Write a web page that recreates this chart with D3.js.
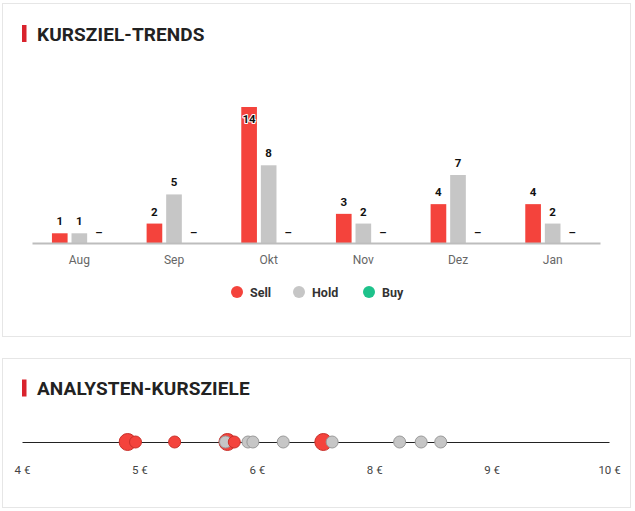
<!DOCTYPE html>
<html>
<head>
<meta charset="utf-8">
<script src="https://cdn.jsdelivr.net/npm/d3@7"></script>
<style>
  html, body { margin: 0; padding: 0; background: #fff; }
  svg { display: block; font-family: Roboto, "Open Sans", sans-serif; }
</style>
</head>
<body>
<svg id="chart" width="635" height="511"></svg>
<script>
// ---- Data ----
const months = ["Aug", "Sep", "Okt", "Nov", "Dez", "Jan"];
const seriesNames = ["Sell", "Hold", "Buy"];
const sellCounts = [1, 2, 14, 3, 4, 4];
const holdCounts = [1, 5, 8, 2, 7, 2];
const buyCounts  = [0, 0, 0, 0, 0, 0];
const seriesColors = ["#f4433c", "#c6c6c6", "#1ec28b"];

// analyst price targets (EUR), rating, number of analysts at that level
const targetValues  = [5.08, 5.16, 5.56, 6.10, 6.08, 6.17, 6.31, 6.36, 6.67, 7.08, 7.17, 7.86, 8.08, 8.28];
const targetRatings = ["Sell","Sell","Sell","Sell","Hold","Sell","Hold","Hold","Hold","Sell","Hold","Hold","Hold","Hold"];
const targetCounts  = [2, 1, 1, 2, 1, 1, 1, 1, 1, 2, 1, 1, 1, 1];
const targetDomain = [4, 10];
const targetTickValues = [4, 5.2, 6.4, 7.6, 8.8, 10];

// ---- Drawing ----
const svg = d3.select("#chart");

// cards
svg.append("rect").attr("x", 2.5).attr("y", 3.5).attr("width", 628).attr("height", 333)
  .attr("fill", "#fff").attr("stroke", "#e6e6e6");
svg.append("rect").attr("x", 2.5).attr("y", 358.5).attr("width", 628).attr("height", 149)
  .attr("fill", "#fff").attr("stroke", "#e6e6e6");

function title(y, text) {
  svg.append("rect").attr("x", 22).attr("y", y - 15.5).attr("width", 4.5).attr("height", 17)
    .attr("fill", "#d9232d");
  svg.append("text").attr("x", 37).attr("y", y).text(text)
    .attr("font-size", 19).attr("font-weight", 700).attr("letter-spacing", 0.1)
    .attr("fill", "#222");
}
title(40.5, "KURSZIEL-TRENDS");
title(395, "ANALYSTEN-KURSZIELE");

// ---- bar chart ----
const data = months.map((m, i) => ({
  month: m,
  values: [sellCounts[i], holdCounts[i], buyCounts[i]]
}));

const x0 = d3.scaleBand().domain(months).range([32, 600]);
const bw = x0.bandwidth();
const x1 = d3.scaleBand().domain(seriesNames).range([bw * 0.19, bw * 0.81])
  .paddingInner(0.2).paddingOuter(0.1);
const y = d3.scaleLinear().domain([0, 14]).range([243, 107]);

const groups = svg.append("g").selectAll("g").data(data).join("g")
  .attr("transform", d => `translate(${x0(d.month)},0)`);

groups.selectAll("rect").data(d => d.values.map((v, k) => ({ v, k })))
  .join("rect")
  .attr("x", d => x1(seriesNames[d.k]))
  .attr("y", d => y(d.v))
  .attr("width", x1.bandwidth())
  .attr("height", d => y(0) - y(d.v))
  .attr("fill", d => seriesColors[d.k]);

groups.selectAll("text").data(d => d.values.map((v, k) => ({ v, k })))
  .join("text")
  .attr("x", d => x1(seriesNames[d.k]) + x1.bandwidth() / 2)
  .attr("y", d => {
    if (d.v === 0) return y(0) - 7.5;
    const above = y(d.v) - 8;
    return above < 105 ? y(d.v) + 16 : above;
  })
  .attr("text-anchor", "middle")
  .attr("font-size", 11.5).attr("font-weight", 700)
  .attr("fill", "#111")
  .attr("stroke", "#fff").attr("stroke-width", 2).attr("paint-order", "stroke")
  .attr("stroke-linejoin", "round")
  .text(d => d.v === 0 ? "–" : d.v);

// x axis
const xAxis = svg.append("g").attr("transform", `translate(0,${y(0)})`)
  .call(d3.axisBottom(x0).tickSize(0).tickPadding(12));
xAxis.select(".domain").attr("stroke", "#bdbdbd").attr("stroke-width", 2);
xAxis.selectAll("text").attr("font-size", 12).attr("fill", "#666")
  .attr("font-family", "Roboto, sans-serif");

// legend
const legend = svg.append("g").selectAll("g").data(seriesNames).join("g")
  .attr("transform", (d, i) => `translate(${[237, 299, 369][i]},292)`);
legend.append("circle").attr("r", 6).attr("fill", (d, i) => seriesColors[i]);
legend.append("text").attr("x", 13).attr("y", 4.5).text(d => d)
  .attr("font-size", 12.5).attr("font-weight", 700).attr("fill", "#333");

// ---- price target strip ----
const xt = d3.scaleLinear().domain(targetDomain).range([22, 609]);
const rScale = d3.scaleSqrt().domain([1, 2]).range([6, 8.5]);
const lineY = 442;

const tAxis = svg.append("g").attr("transform", `translate(0,${lineY})`)
  .call(d3.axisBottom(xt).tickValues(targetTickValues).tickSize(0).tickPadding(24)
    .tickFormat(v => d3.format(".0f")(v) + " €"));
tAxis.select(".domain").attr("stroke", "#222").attr("stroke-width", 1.2);
tAxis.selectAll("text").attr("font-size", 11.5).attr("fill", "#444")
  .attr("font-family", "Roboto, sans-serif").attr("font-weight", 400);

const targets = targetValues.map((v, i) => ({ v, rating: targetRatings[i], n: targetCounts[i] }));
svg.append("g").selectAll("circle").data(targets).join("circle")
  .attr("cx", d => xt(d.v))
  .attr("cy", lineY)
  .attr("r", d => rScale(d.n))
  .attr("fill", d => d.rating === "Sell" ? seriesColors[0] : seriesColors[1])
  .attr("stroke", d => d.rating === "Sell" ? "#c9302a" : "#9a9a9a")
  .attr("stroke-width", 1);
</script>
</body>
</html>
